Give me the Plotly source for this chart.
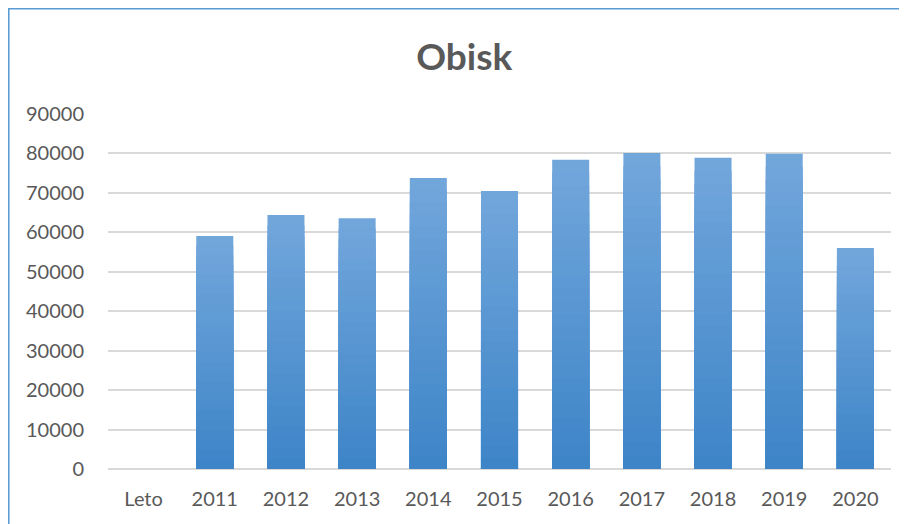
import plotly.graph_objects as go

# categories and values
leta = ['Leto', '2011', '2012', '2013', '2014', '2015', '2016', '2017', '2018', '2019', '2020']
obisk = [0, 59100, 64400, 63600, 73800, 70500, 78400, 80100, 78900, 79900, 56000]

fig = go.Figure()

# fake a vertical gradient: overlay progressively shorter, darker bars
steps = 24
top_rgb = (113, 166, 219)
bot_rgb = (62, 133, 200)
for k in range(steps):
    f = 1 - k / steps
    t = k / (steps - 1)
    c = tuple(round(a + (b - a) * t) for a, b in zip(top_rgb, bot_rgb))
    fig.add_trace(go.Bar(
        x=leta, y=[v * f for v in obisk],
        marker=dict(color='rgb(%d,%d,%d)' % c, line=dict(width=0)),
        hoverinfo='skip' if k else None,
        showlegend=False,
    ))

# page has an 8px body margin, so everything is shifted by -8 here
fig.update_layout(
    barmode='overlay',
    bargap=0.48,
    width=907, height=524,
    margin=dict(l=100, r=24, t=106, b=63),
    paper_bgcolor='white',
    plot_bgcolor='white',
    font=dict(family='Lato, Noto Sans, sans-serif', size=20, color='#595959'),
    title=dict(text='<b>Obisk</b>', x=0.503, xanchor='center', y=0.906, yanchor='middle',
               font=dict(size=37, color='#595959')),
    xaxis=dict(showgrid=False, showline=False, ticks='', ticklabelstandoff=16),
    yaxis=dict(range=[0, 90000], dtick=10000, tickformat='d', gridcolor='#d9d9d9',
               gridwidth=1.5, zeroline=True, zerolinecolor='#d9d9d9', zerolinewidth=1.5,
               showline=False, ticks='', ticklabelstandoff=23),
    shapes=[dict(type='rect', xref='paper', yref='paper', x0=-0.127, x1=1.05,
                 y0=-0.25, y1=1.297, line=dict(color='#5b9bd5', width=2),
                 fillcolor='rgba(0,0,0,0)', layer='below')],
)

fig.write_html('out.html')
